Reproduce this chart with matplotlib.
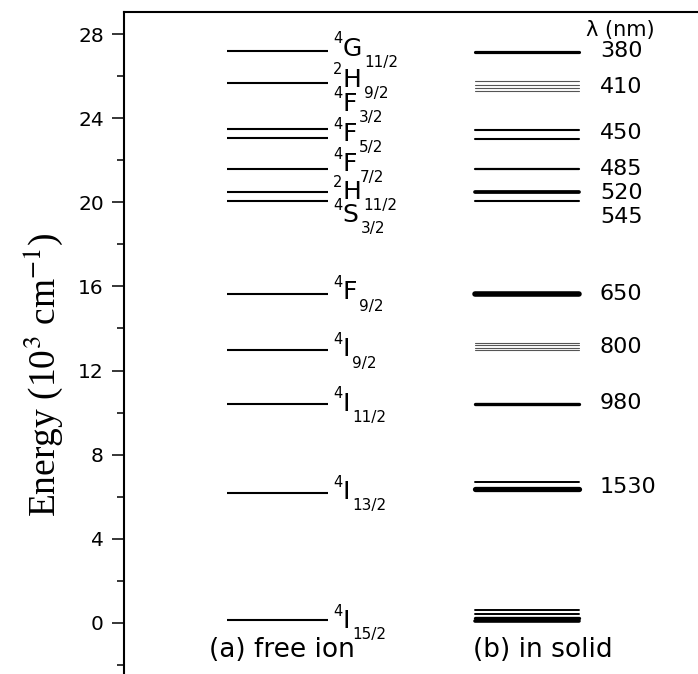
import matplotlib
matplotlib.use('Agg')
import matplotlib.pyplot as plt
from matplotlib.ticker import MultipleLocator

# Er3+ free-ion levels, energy in 10^3 cm^-1
free_energy = [27.2, 25.65, 23.5, 23.05, 21.6, 20.5, 20.05, 15.65, 13.0, 10.4, 6.2, 0.12]
free_spin = ['4', '2', '4', '4', '4', '2', '4', '4', '4', '4', '4', '4']
free_term = ['G', 'H', 'F', 'F', 'F', 'H', 'S', 'F', 'I', 'I', 'I', 'I']
free_j = ['11/2', '9/2', '3/2', '5/2', '7/2', '11/2', '3/2', '9/2', '9/2', '11/2', '13/2', '15/2']

# Stark components in the solid, one list per manifold
solid_energy = [
    [27.14],
    [25.78, 25.6, 25.44, 25.27],
    [23.43, 23.0],
    [21.57],
    [20.48, 20.05],
    [15.62],
    [13.32, 13.2, 13.08, 12.97],
    [10.43],
    [6.7, 6.37],
    [0.62, 0.4, 0.24, 0.1],
]
wavelength_nm = ['380', '410', '450', '485', '520', '545', '650', '800', '980', '1530']

# line widths (pt) and colours for each Stark component
solid_lw = [[2.3], [0.8] * 4, [1.5, 1.5], [1.6], [2.7, 1.5], [4.0],
            [0.8] * 4, [2.4], [1.4, 3.8], [1.4, 1.4, 2.4, 2.6]]
solid_col = [['k'], ['#555555'] * 4, ['k'] * 2, ['k'], ['k'] * 2, ['k'],
             ['#555555'] * 4, ['k'], ['k'] * 2, ['k'] * 4]

# baselines of the term letters (spread out where levels crowd together)
term_base = [26.98, 25.5, 24.36, 22.93, 21.5, 20.17, 19.07, 15.38, 12.67, 10.1, 5.9, -0.24]
# centres of the wavelength labels
wl_y = [27.19, 25.5, 23.3, 21.57, 20.43, 19.29, 15.62, 13.14, 10.48, 6.48]

plt.rcParams['font.family'] = 'DejaVu Sans'
plt.rcParams['mathtext.fontset'] = 'stix'

fig = plt.figure(figsize=(6.98, 6.74), dpi=100)
ax = fig.add_axes([124 / 698, 0.0, 1 - 124 / 698, 1 - 12 / 674])
ax.set_xlim(0, 1)
ax.set_ylim(-2.43, 29.05)

for s in ['right', 'bottom']:
    ax.spines[s].set_visible(False)
ax.spines['left'].set_linewidth(1.5)
ax.spines['top'].set_linewidth(1.5)

ax.yaxis.set_major_locator(MultipleLocator(4))
ax.yaxis.set_minor_locator(MultipleLocator(2))
ax.tick_params(axis='y', which='major', direction='out', length=8.5, width=1.1,
               labelsize=14.5, pad=6)
ax.tick_params(axis='y', which='minor', direction='out', length=5, width=1.1)
ax.set_xticks([])

# (a) free ion
for e in free_energy:
    ax.plot([0.179, 0.355], [e, e], color='k', lw=1.5, solid_capstyle='butt')

for sp, t, j, yb in zip(free_spin, free_term, free_j, term_base):
    letter = ax.text(0.381, yb, t, fontsize=18, ha='left', va='baseline')
    ax.annotate(sp, xy=(0, yb), xycoords=(letter, 'data'), xytext=(0, 12),
                textcoords='offset points', ha='right', va='center', fontsize=10.5)
    ax.annotate(j, xy=(1, yb), xycoords=(letter, 'data'), xytext=(1.5, -5),
                textcoords='offset points', ha='left', va='center', fontsize=11)

# (b) in solid
for grp, lws, cols in zip(solid_energy, solid_lw, solid_col):
    for e, lw, c in zip(grp, lws, cols):
        ax.plot([0.611, 0.793], [e, e], color=c, lw=lw, solid_capstyle='round')

for wl, y in zip(wavelength_nm, wl_y):
    ax.text(0.829, y, wl, fontsize=16, ha='left', va='center')
ax.text(0.864, 28.2, 'λ (nm)', fontsize=15, ha='center', va='center')

ax.text(0.275, -1.29, '(a) free ion', fontsize=19, ha='center', va='center')
ax.text(0.73, -1.29, '(b) in solid', fontsize=19, ha='center', va='center')

fig.text(43 / 698, 1 - 375 / 674, 'Energy (10$^3$ cm$^{-1}$)', rotation=90,
         ha='center', va='center', fontsize=27, family='Liberation Serif')

fig.savefig('out.png', dpi=100)
